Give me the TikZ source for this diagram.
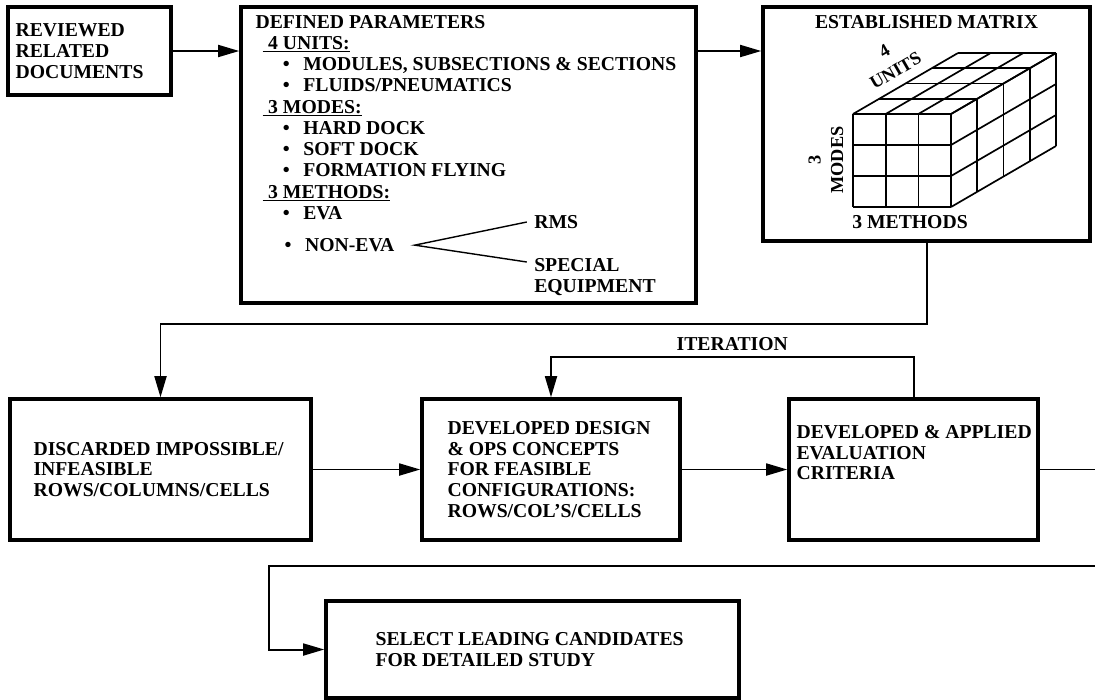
\documentclass[tikz,border=0pt]{standalone}
\usepackage{fontspec}
\setmainfont{Liberation Serif}
\usetikzlibrary{arrows.meta,positioning}

\newcommand{\pitem}{\hspace*{19.5pt}\makebox[14.5pt][l]{\textbullet}}
\newcommand{\phead}[1]{\hspace*{5pt}\underline{\hspace*{4pt}#1}}

\tikzset{
  box/.style={draw, line width=2.4pt, inner sep=0pt},
  txt/.style={inner sep=0pt, align=left, font=\bfseries\fontsize{14}{14.8}\selectfont},
  arr/.style={line width=1.4pt, -{Triangle[length=15pt,width=8.5pt]}},
  wire/.style={line width=1.4pt},
  cube/.style={line width=1.2pt},
  branch/.style={line width=1pt}
}

\begin{document}
\begin{tikzpicture}[x=0.025cm, y=-0.025cm]
  \useasboundingbox (0,0) rectangle (1095,699);

  % boxes
  \node[box, minimum width=4.075cm, minimum height=2.2cm] (docs) at (89.5,51) {};
  \node[box, minimum width=11.375cm, minimum height=7.4cm] (params) at (468.5,155) {};
  \node[box, minimum width=8.175cm, minimum height=5.85cm] (estab) at (926.5,124) {};
  \node[box, minimum width=7.525cm, minimum height=3.525cm] (discard) at (160.5,469.5) {};
  \node[box, minimum width=6.45cm, minimum height=3.525cm] (design) at (551,469.5) {};
  \node[box, minimum width=6.225cm, minimum height=3.525cm] (criteria) at (913.5,469.5) {};
  \node[box, minimum width=10.325cm, minimum height=2.425cm] (select) at (532.5,649.5) {};

  % box texts
  \node[txt, right=0.225cm of docs.west] (docstxt) {REVIEWED\\RELATED\\DOCUMENTS};
  \node[txt, font=\bfseries\fontsize{14}{15.1}\selectfont,
        below right=0.24cm and 0.4cm of params.north west] (paramtxt)
    {DEFINED PARAMETERS\\
     \phead{4 UNITS:}\\
     \pitem MODULES, SUBSECTIONS \& SECTIONS\\
     \pitem FLUIDS/PNEUMATICS\\
     \phead{3 MODES:}\\
     \pitem HARD DOCK\\
     \pitem SOFT DOCK\\
     \pitem FORMATION FLYING\\
     \phead{3 METHODS:}\\
     \pitem EVA};
  \node[txt, anchor=base west] (noneva) at (257,251.5) {\pitem NON-EVA};
  \node[txt, anchor=west] (rms) at (534,222) {RMS};
  \node[txt, anchor=north west] (special) at (534,258) {SPECIAL\\EQUIPMENT};
  \node[txt, below=0.24cm of estab.north] (estabtxt) {ESTABLISHED MATRIX};
  \node[txt, right=0.625cm of discard.west] (discardtxt)
    {DISCARDED IMPOSSIBLE/\\INFEASIBLE\\ROWS/COLUMNS/CELLS};
  \node[txt, right=0.675cm of design.west] (designtxt)
    {DEVELOPED DESIGN\\\& OPS CONCEPTS\\FOR FEASIBLE\\CONFIGURATIONS:\\ROWS/COL'S/CELLS};
  \node[txt, below right=0.69cm and 0.225cm of criteria.north west] (criteriatxt)
    {DEVELOPED \& APPLIED\\EVALUATION\\CRITERIA};
  \node[txt, right=1.275cm of select.west] (selecttxt)
    {SELECT LEADING CANDIDATES\\FOR DETAILED STUDY};

  % NON-EVA fork
  \draw[branch] ([xshift=-0.18cm]rms.west) -- ([xshift=0.5cm]noneva.east)
    -- ([shift={(-0.18cm,-0.1cm)}]special.north west);

  % matrix cube
  \foreach \i in {0,...,3} {
    \draw[cube] (853+\i*32.67,114) -- ++(0,93);
    \draw[cube] (853+\i*32.67,114) -- ++(105,-61);
    \draw[cube] (853,114+\i*31) -- ++(98,0);
    \draw[cube] (951,114+\i*31) -- ++(105,-61);
  }
  \foreach \k in {1,...,4} {
    \draw[cube] (853+\k*26.25,114-\k*15.25) -- ++(98,0);
    \draw[cube] (951+\k*26.25,114-\k*15.25) -- ++(0,93);
  }
  \node[txt, font=\bfseries\fontsize{13}{16}\selectfont, align=center, rotate=30] (units) at (890,61) {4\\UNITS};
  \node[txt, font=\bfseries\fontsize{13}{16}\selectfont, align=center, rotate=90] (modes) at (826,160) {3\\MODES};
  \node[txt] (methods) at (910,222) {3 METHODS};

  % connectors
  \coordinate (exitA) at (1095,464);
  \coordinate (entryB) at (1095,566);
  \draw[arr] (docs.east) -- (docs.east -| params.west);
  \draw[arr] (params.east |- docs.east) -- (estab.west |- docs.east);
  \draw[arr] (estab.south) -- ++(0,81) -| (discard.north);
  \draw[arr] (discard.east) -- (design.west);
  \draw[arr] (design.east) -- (criteria.west);
  \draw[arr] (criteria.north) -- ++(0,-40)
    -| node[txt, above=4pt, pos=0.25] (iter) {ITERATION} (design.north);
  \draw[wire] (criteria.east) -- (criteria.east -| exitA);
  \draw[arr] (entryB) -- ++(-826,0) |- (select.west);
\end{tikzpicture}
\end{document}
